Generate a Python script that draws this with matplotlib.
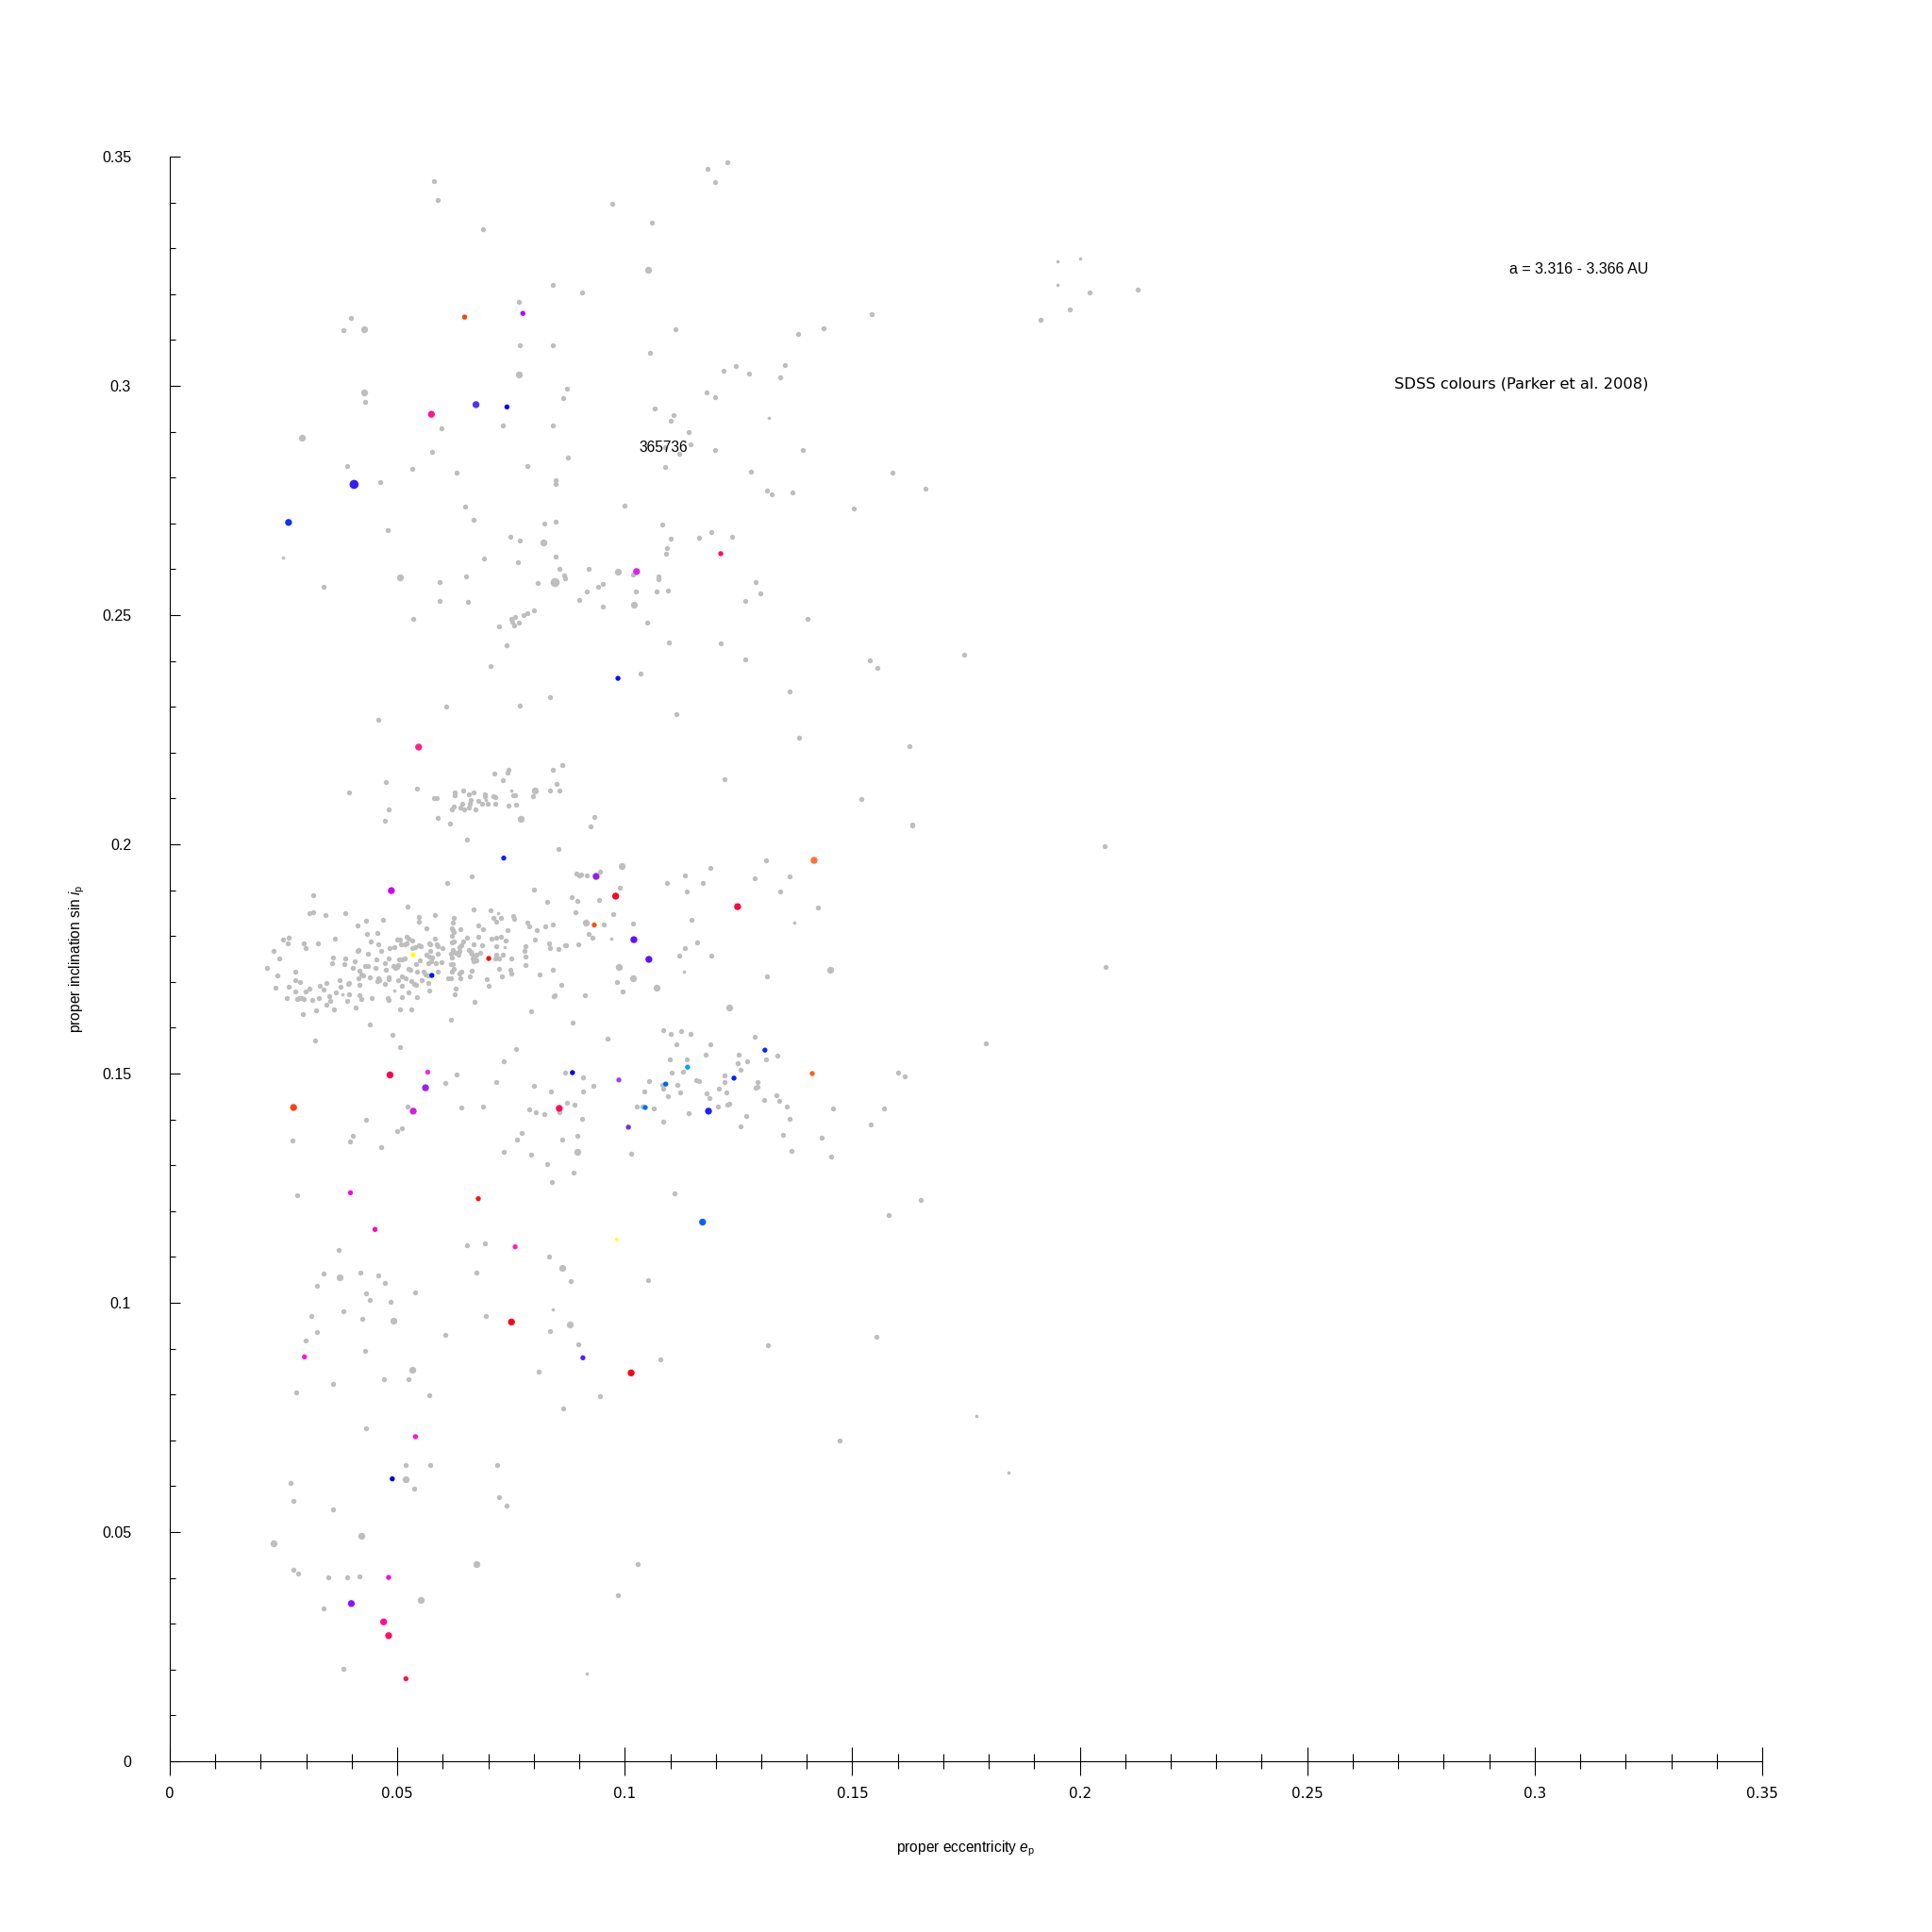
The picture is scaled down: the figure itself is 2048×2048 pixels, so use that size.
import matplotlib
matplotlib.use('Agg')
import matplotlib.pyplot as plt
from matplotlib.ticker import MultipleLocator, FormatStrFormatter

plt.rcParams['mathtext.fontset'] = 'custom'
plt.rcParams['mathtext.rm'] = 'Liberation Sans'
plt.rcParams['mathtext.it'] = 'Liberation Sans:italic'

# proper elements (e_p, sin i_p) of the background family members, grey points
gray_core = [
    (0.0315, 0.1889), (0.0307, 0.1850), (0.0315, 0.1852), (0.0342, 0.1846), (0.0386, 0.1850),
    (0.0523, 0.1864), (0.0547, 0.1842), (0.0547, 0.1831), (0.0583, 0.1846), (0.0431, 0.1834),
    (0.0469, 0.1836), (0.0412, 0.1823), (0.0433, 0.1805), (0.0456, 0.1807), (0.0442, 0.1788),
    (0.0458, 0.1782), (0.0249, 0.1792), (0.0261, 0.1796), (0.0259, 0.1784), (0.0228, 0.1768),
    (0.0241, 0.1751), (0.0214, 0.1730), (0.0236, 0.1714), (0.0294, 0.1784), (0.0298, 0.1774),
    (0.0326, 0.1784), (0.0363, 0.1794), (0.0359, 0.1753), (0.0357, 0.1741), (0.0386, 0.1751),
    (0.0384, 0.1739), (0.0406, 0.1745), (0.0412, 0.1768), (0.0414, 0.1770), (0.0435, 0.1762),
    (0.0402, 0.1730), (0.0417, 0.1724), (0.0421, 0.1716), (0.0425, 0.1714), (0.0414, 0.1708),
    (0.0429, 0.1735), (0.0435, 0.1735), (0.0452, 0.1730), (0.0454, 0.1749), (0.0464, 0.1768),
    (0.0473, 0.1741), (0.0481, 0.1751), (0.0475, 0.1726), (0.0491, 0.1735), (0.0496, 0.1730),
    (0.0500, 0.1732), (0.0502, 0.1737), (0.0504, 0.1749), (0.0510, 0.1749), (0.0516, 0.1751),
    (0.0508, 0.1782), (0.0516, 0.1782), (0.0520, 0.1784), (0.0500, 0.1792), (0.0506, 0.1792),
    (0.0494, 0.1776), (0.0483, 0.1774), (0.0520, 0.1798), (0.0524, 0.1794), (0.0532, 0.1790),
    (0.0532, 0.1774), (0.0540, 0.1776), (0.0547, 0.1780), (0.0551, 0.1778), (0.0564, 0.1817),
    (0.0583, 0.1794), (0.0570, 0.1784), (0.0572, 0.1782), (0.0587, 0.1782), (0.0589, 0.1778),
    (0.0599, 0.1774), (0.0572, 0.1768), (0.0564, 0.1760), (0.0570, 0.1755), (0.0576, 0.1753),
    (0.0574, 0.1745), (0.0568, 0.1741), (0.0589, 0.1762), (0.0597, 0.1743), (0.0585, 0.1741),
    (0.0549, 0.1747), (0.0541, 0.1739), (0.0524, 0.1728), (0.0528, 0.1726), (0.0543, 0.1722),
    (0.0557, 0.1722), (0.0589, 0.1722), (0.0562, 0.1716), (0.0568, 0.1714), (0.0553, 0.1704),
    (0.0537, 0.1695), (0.0541, 0.1693), (0.0530, 0.1702), (0.0510, 0.1712), (0.0518, 0.1708),
    (0.0502, 0.1704), (0.0510, 0.1691), (0.0524, 0.1677), (0.0543, 0.1667), (0.0568, 0.1697),
    (0.0570, 0.1681), (0.0481, 0.1710), (0.0481, 0.1706), (0.0473, 0.1695), (0.0458, 0.1708),
    (0.0456, 0.1702), (0.0460, 0.1704), (0.0439, 0.1710), (0.0417, 0.1693), (0.0394, 0.1697),
    (0.0392, 0.1695), (0.0373, 0.1704), (0.0375, 0.1689), (0.0344, 0.1697), (0.0330, 0.1691),
    (0.0338, 0.1683), (0.0307, 0.1685), (0.0298, 0.1679), (0.0286, 0.1699), (0.0276, 0.1704),
    (0.0276, 0.1722), (0.0261, 0.1689), (0.0232, 0.1687), (0.0276, 0.1679), (0.0257, 0.1665),
    (0.0280, 0.1663), (0.0284, 0.1665), (0.0290, 0.1665), (0.0294, 0.1663), (0.0313, 0.1661),
    (0.0321, 0.1638), (0.0292, 0.1630), (0.0328, 0.1665), (0.0344, 0.1650), (0.0352, 0.1659),
    (0.0350, 0.1669), (0.0365, 0.1677), (0.0394, 0.1673), (0.0390, 0.1659), (0.0361, 0.1640),
    (0.0408, 0.1644), (0.0417, 0.1671), (0.0421, 0.1663), (0.0444, 0.1665), (0.0479, 0.1665),
    (0.0481, 0.1661), (0.0510, 0.1667), (0.0506, 0.1640), (0.0530, 0.1640), (0.0439, 0.1607),
    (0.0489, 0.1584), (0.0506, 0.1557), (0.0319, 0.1571), (0.0617, 0.1617), (0.0619, 0.1817),
    (0.0623, 0.1813), (0.0625, 0.1809), (0.0619, 0.1786), (0.0625, 0.1788), (0.0623, 0.1770),
    (0.0617, 0.1762), (0.0621, 0.1753), (0.0617, 0.1739), (0.0623, 0.1739), (0.0621, 0.1722),
    (0.0611, 0.1708), (0.0617, 0.1708), (0.0623, 0.1830),
    (0.0668, 0.1858), (0.0705, 0.1856), (0.0711, 0.1840), (0.0717, 0.1831), (0.0728, 0.1840),
    (0.0755, 0.1844), (0.0757, 0.1838), (0.0624, 0.1840), (0.0639, 0.1815), (0.0620, 0.1801),
    (0.0653, 0.1796), (0.0678, 0.1823), (0.0688, 0.1815), (0.0678, 0.1798), (0.0707, 0.1794),
    (0.0717, 0.1796), (0.0728, 0.1798), (0.0738, 0.1790), (0.0742, 0.1813), (0.0668, 0.1782),
    (0.0686, 0.1780), (0.0645, 0.1788), (0.0641, 0.1780), (0.0637, 0.1776), (0.0629, 0.1764),
    (0.0634, 0.1760), (0.0637, 0.1768), (0.0657, 0.1770), (0.0661, 0.1766), (0.0663, 0.1762),
    (0.0670, 0.1755), (0.0674, 0.1760), (0.0682, 0.1764), (0.0672, 0.1749), (0.0668, 0.1745),
    (0.0674, 0.1747), (0.0666, 0.1751), (0.0717, 0.1778), (0.0717, 0.1760), (0.0732, 0.1760),
    (0.0724, 0.1751), (0.0715, 0.1751), (0.0751, 0.1751), (0.0724, 0.1728), (0.0749, 0.1726),
    (0.0751, 0.1718), (0.0730, 0.1712), (0.0697, 0.1706), (0.0701, 0.1691), (0.0663, 0.1724),
    (0.0641, 0.1722), (0.0637, 0.1718), (0.0624, 0.1728), (0.0659, 0.1712), (0.0639, 0.1708),
    (0.0628, 0.1685), (0.0626, 0.1673), (0.0670, 0.1657), (0.0795, 0.1636), (0.0813, 0.1716),
    (0.0842, 0.1726), (0.0861, 0.1693), (0.0844, 0.1669), (0.0846, 0.1671), (0.0885, 0.1611),
    (0.0761, 0.1553), (0.0734, 0.1527), (0.0963, 0.1576), (0.0782, 0.1778), (0.0780, 0.1768),
    (0.0782, 0.1755), (0.0782, 0.1737), (0.0786, 0.1830), (0.0790, 0.1822), (0.0807, 0.1813),
    (0.0803, 0.1792), (0.0825, 0.1822), (0.0842, 0.1826), (0.0834, 0.1784), (0.0836, 0.1774),
    (0.0855, 0.1772), (0.0869, 0.1780), (0.0829, 0.1875), (0.0610, 0.1916), (0.0801, 0.1902),
]

gray_band = [
    (0.0394, 0.2113), (0.0475, 0.2136), (0.0481, 0.2076), (0.0473, 0.2051), (0.0543, 0.2121),
    (0.0581, 0.2101), (0.0587, 0.2101), (0.0589, 0.2058), (0.0616, 0.2045), (0.0626, 0.2113),
    (0.0626, 0.2107), (0.0645, 0.2117), (0.0657, 0.2109), (0.0667, 0.2113), (0.0661, 0.2097),
    (0.0643, 0.2088), (0.0659, 0.2088), (0.0639, 0.2080), (0.0647, 0.2076), (0.0657, 0.2080),
    (0.0624, 0.2082), (0.0620, 0.2076), (0.0672, 0.2076), (0.0678, 0.2095), (0.0692, 0.2109),
    (0.0692, 0.2105), (0.0686, 0.2088), (0.0699, 0.2088), (0.0711, 0.2105), (0.0715, 0.2103),
    (0.0715, 0.2088), (0.0713, 0.2154), (0.0732, 0.2140), (0.0742, 0.2156), (0.0744, 0.2162),
    (0.0755, 0.2107), (0.0759, 0.2107), (0.0744, 0.2084), (0.0761, 0.2086), (0.0798, 0.2105),
    (0.0835, 0.2117), (0.0850, 0.2131), (0.0856, 0.2117), (0.0842, 0.2162), (0.0863, 0.2173),
    (0.0854, 0.1990), (0.0653, 0.2010), (0.0664, 0.1930),
]

gray_right = [
    (0.0933, 0.2059), (0.0925, 0.2039), (0.1632, 0.2043), (0.0894, 0.1936), (0.0900, 0.1932),
    (0.0904, 0.1934), (0.0917, 0.1932), (0.0946, 0.1940), (0.0989, 0.1905), (0.0883, 0.1885),
    (0.0896, 0.1877), (0.0944, 0.1879), (0.0892, 0.1852), (0.0975, 0.1848), (0.0954, 0.1825),
    (0.1018, 0.1827), (0.0921, 0.1805), (0.0929, 0.1796), (0.0898, 0.1782), (0.0871, 0.1780),
    (0.0983, 0.1700), (0.0995, 0.1679), (0.0912, 0.1671), (0.1093, 0.1916), (0.1132, 0.1932),
    (0.1171, 0.1916), (0.1136, 0.1897), (0.1188, 0.1949), (0.1286, 0.1926), (0.1310, 0.1965),
    (0.1362, 0.1930), (0.1341, 0.1897), (0.1424, 0.1862), (0.1147, 0.1835), (0.1159, 0.1786),
    (0.1132, 0.1774), (0.1120, 0.1757), (0.1190, 0.1757), (0.1312, 0.1712),
    (0.1084, 0.1595), (0.1101, 0.1587), (0.1124, 0.1593), (0.1145, 0.1587), (0.1113, 0.1564),
    (0.1188, 0.1564), (0.1286, 0.1580), (0.1178, 0.1542), (0.1099, 0.1531), (0.1136, 0.1531),
    (0.1250, 0.1541), (0.1269, 0.1527), (0.1248, 0.1523), (0.1254, 0.1508), (0.1335, 0.1539),
    (0.1310, 0.1531), (0.1103, 0.1502), (0.1128, 0.1504), (0.1157, 0.1486), (0.1163, 0.1484),
    (0.1219, 0.1496), (0.1219, 0.1482), (0.1292, 0.1482), (0.1288, 0.1469), (0.1292, 0.1471),
    (0.1601, 0.1502), (0.1615, 0.1494), (0.1053, 0.1484), (0.1043, 0.1461), (0.1082, 0.1475),
    (0.1084, 0.1467), (0.1116, 0.1475), (0.1122, 0.1459), (0.1095, 0.1451), (0.1207, 0.1467),
    (0.1223, 0.1459), (0.1180, 0.1457), (0.1186, 0.1447), (0.1333, 0.1453), (0.1339, 0.1440),
    (0.1356, 0.1428), (0.1306, 0.1442), (0.1205, 0.1428), (0.1226, 0.1432), (0.1230, 0.1434),
    (0.1140, 0.1414), (0.1267, 0.1407), (0.1254, 0.1385), (0.1362, 0.1401), (0.1348, 0.1366),
    (0.1366, 0.1331), (0.1458, 0.1424), (0.1570, 0.1424), (0.1541, 0.1389), (0.1433, 0.1360),
    (0.1454, 0.1319), (0.1026, 0.1428), (0.1039, 0.1428), (0.1064, 0.1424), (0.1084, 0.1395),
    (0.0869, 0.1502), (0.0908, 0.1492), (0.0931, 0.1473), (0.0800, 0.1473), (0.0838, 0.1461),
    (0.0908, 0.1461), (0.0873, 0.1436), (0.0889, 0.1432), (0.0790, 0.1422), (0.0805, 0.1416),
    (0.0823, 0.1412), (0.0856, 0.1416), (0.0906, 0.1401), (0.0774, 0.1370), (0.0862, 0.1356),
    (0.0896, 0.1364), (0.0795, 0.1323), (0.0829, 0.1302), (0.0887, 0.1284), (0.0840, 0.1264),
    (0.1014, 0.1325),
]

gray_upper = [
    (0.0479, 0.2686), (0.0650, 0.2736), (0.0668, 0.2707), (0.0749, 0.2670), (0.0769, 0.2663),
    (0.0823, 0.2700), (0.0848, 0.2704), (0.0690, 0.2624), (0.0765, 0.2615), (0.0848, 0.2627),
    (0.0856, 0.2601), (0.0867, 0.2587), (0.0869, 0.2580), (0.0809, 0.2570), (0.0921, 0.2601),
    (0.0999, 0.2739), (0.1082, 0.2698), (0.1101, 0.2667), (0.1093, 0.2646), (0.1091, 0.2634),
    (0.1163, 0.2669), (0.1190, 0.2681), (0.1236, 0.2671), (0.1019, 0.2589), (0.1074, 0.2584),
    (0.1074, 0.2578), (0.1024, 0.2551), (0.1070, 0.2551), (0.1095, 0.2553), (0.0952, 0.2568),
    (0.0942, 0.2562), (0.0916, 0.2551), (0.0900, 0.2533), (0.0952, 0.2519), (0.1049, 0.2483),
    (0.1097, 0.2440), (0.1211, 0.2438), (0.1265, 0.2531), (0.1265, 0.2403), (0.1035, 0.2372),
    (0.0800, 0.2511), (0.0786, 0.2504), (0.0778, 0.2500), (0.0759, 0.2496), (0.0751, 0.2492),
    (0.0753, 0.2485), (0.0757, 0.2477), (0.0767, 0.2483), (0.0723, 0.2475), (0.0740, 0.2434),
    (0.0705, 0.2389), (0.0593, 0.2572), (0.0651, 0.2584), (0.0593, 0.2531), (0.0655, 0.2529),
    (0.0535, 0.2492), (0.0338, 0.2562),
    (0.0581, 0.3446), (0.0589, 0.3406), (0.0689, 0.3342), (0.0973, 0.3398), (0.1060, 0.3355),
    (0.1182, 0.3473), (0.1225, 0.3487), (0.1198, 0.3444), (0.0841, 0.3220), (0.0906, 0.3204),
    (0.0767, 0.3183), (0.1112, 0.3124), (0.0399, 0.3148), (0.0381, 0.3121), (0.0770, 0.3089),
    (0.0841, 0.3089), (0.1055, 0.3072), (0.1436, 0.3126), (0.1380, 0.3113), (0.1542, 0.3156),
    (0.1217, 0.3032), (0.1244, 0.3043), (0.1274, 0.3027), (0.1352, 0.3046), (0.1342, 0.3019),
    (0.1179, 0.2986), (0.1198, 0.2976), (0.0430, 0.2965), (0.0873, 0.2994), (0.0865, 0.2973),
    (0.0597, 0.2908), (0.0732, 0.2914), (0.0841, 0.2914), (0.1066, 0.2950), (0.1107, 0.2936),
    (0.1101, 0.2924), (0.1140, 0.2899), (0.1145, 0.2872), (0.1120, 0.2851), (0.1089, 0.2823),
    (0.1277, 0.2813), (0.1198, 0.2860), (0.0875, 0.2844), (0.1089, 0.2866), (0.0576, 0.2855),
    (0.0630, 0.2811), (0.0786, 0.2825), (0.0849, 0.2795), (0.0849, 0.2785), (0.0532, 0.2819),
    (0.0389, 0.2825), (0.0462, 0.2790), (0.1391, 0.2860), (0.1312, 0.2771), (0.1323, 0.2763),
    (0.1369, 0.2768), (0.1588, 0.2811), (0.1661, 0.2776), (0.1504, 0.2733),
    (0.1401, 0.2491), (0.1288, 0.2572), (0.1298, 0.2547), (0.1363, 0.2333), (0.1383, 0.2233),
    (0.1520, 0.2098), (0.1626, 0.2214), (0.1631, 0.2042), (0.1539, 0.2402), (0.1556, 0.2384),
    (0.1745, 0.2413), (0.1114, 0.2284), (0.1220, 0.2142), (0.0835, 0.2322), (0.0770, 0.2303),
    (0.0607, 0.2300), (0.0459, 0.2271),
    (0.2022, 0.3204), (0.2128, 0.3210), (0.1978, 0.3166), (0.1913, 0.3145),
]

gray_lower = [
    (0.2054, 0.1996), (0.2057, 0.1733), (0.1794, 0.1566), (0.1472, 0.0699), (0.1553, 0.0925),
    (0.1315, 0.0907), (0.1650, 0.1224), (0.1580, 0.1192),
    (0.0269, 0.1353), (0.0280, 0.1235), (0.0432, 0.1399), (0.0402, 0.1364), (0.0397, 0.1351),
    (0.0464, 0.1340), (0.0499, 0.1375), (0.0510, 0.1380), (0.0522, 0.1429), (0.0640, 0.1426),
    (0.0689, 0.1429), (0.0717, 0.1481), (0.0735, 0.1329), (0.0762, 0.1356), (0.0631, 0.1497),
    (0.0605, 0.1479),
    (0.0372, 0.1116), (0.0337, 0.1063), (0.0323, 0.1038), (0.0310, 0.0971), (0.0299, 0.0917),
    (0.0323, 0.0936), (0.0359, 0.0823), (0.0277, 0.0804), (0.0381, 0.0982), (0.0418, 0.1065),
    (0.0432, 0.1020), (0.0424, 0.0966), (0.0440, 0.1006), (0.0459, 0.1060), (0.0486, 0.1003),
    (0.0473, 0.1044), (0.0430, 0.0896), (0.0432, 0.0726), (0.0470, 0.0834), (0.0524, 0.0834),
    (0.0570, 0.0799), (0.0540, 0.1022), (0.0605, 0.0931), (0.0519, 0.0646), (0.0537, 0.0595),
    (0.0573, 0.0646), (0.0266, 0.0608), (0.0272, 0.0568), (0.0359, 0.0549), (0.0272, 0.0417),
    (0.0283, 0.0409), (0.0348, 0.0401), (0.0389, 0.0401), (0.0416, 0.0404), (0.0337, 0.0334),
    (0.0381, 0.0202), (0.0719, 0.0646), (0.0724, 0.0576), (0.0741, 0.0557), (0.0654, 0.1125),
    (0.0692, 0.1130), (0.0673, 0.1065), (0.0695, 0.0971), (0.0833, 0.1100), (0.0836, 0.0939),
    (0.0811, 0.0850), (0.0898, 0.0909), (0.0882, 0.1047), (0.1052, 0.1049), (0.0946, 0.0796),
    (0.0865, 0.0769), (0.1079, 0.0877), (0.1028, 0.0430), (0.0985, 0.0363), (0.1109, 0.1238),
]

gray_tiny = [
    (0.0494, 0.1681), (0.0379, 0.1673), (0.0722, 0.1850), (0.0736, 0.1776), (0.0970, 0.1794),
    (0.1373, 0.1829), (0.1130, 0.1722), (0.0694, 0.2097), (0.0751, 0.2117), (0.0249, 0.2625),
    (0.1317, 0.2930), (0.1951, 0.3271), (0.2000, 0.3277), (0.1951, 0.3220), (0.1772, 0.0753),
    (0.1843, 0.0630), (0.0841, 0.0985), (0.0917, 0.0191),
]

gray_medium = [
    (0.0993, 0.1953), (0.0915, 0.1829), (0.0987, 0.1732), (0.1018, 0.1708), (0.1070, 0.1687),
    (0.1451, 0.1726), (0.0771, 0.2056), (0.0802, 0.2117), (0.0821, 0.2659), (0.0985, 0.2595),
    (0.1020, 0.2522), (0.0506, 0.2582), (0.1052, 0.3253), (0.0427, 0.3124), (0.0767, 0.3024),
    (0.0427, 0.2986), (0.0291, 0.2887), (0.1230, 0.1644), (0.0896, 0.1329), (0.0374, 0.1055),
    (0.0491, 0.0960), (0.0532, 0.0853), (0.0519, 0.0616), (0.0421, 0.0492), (0.0229, 0.0476),
    (0.0551, 0.0352), (0.0673, 0.0430), (0.0862, 0.1076), (0.0879, 0.0952),
]

gray_large = [(0.0846, 0.2572)]

# members with SDSS colours
sdss_e = [0.0776, 0.0648, 0.0575, 0.0673, 0.0741, 0.0405, 0.0261, 0.1211,
          0.1026, 0.0985, 0.0547, 0.0734, 0.0487, 0.0937, 0.0980, 0.0933,
          0.1416, 0.1248, 0.1020, 0.1053, 0.0535, 0.0576, 0.0701, 0.0484,
          0.0567, 0.0562, 0.0535, 0.0272, 0.0856, 0.0885, 0.0987, 0.1008,
          0.1045, 0.1090, 0.1138, 0.1240, 0.1184, 0.1308, 0.1412, 0.1171,
          0.0982, 0.0759, 0.0678, 0.0451, 0.0397, 0.0296, 0.0751, 0.0908,
          0.1014, 0.0540, 0.0489, 0.0481, 0.0399, 0.0470, 0.0481, 0.0519]
sdss_sini = [0.3158, 0.3150, 0.2938, 0.2959, 0.2954, 0.2785, 0.2702, 0.2634,
             0.2595, 0.2362, 0.2212, 0.1970, 0.1899, 0.1930, 0.1887, 0.1824,
             0.1965, 0.1864, 0.1792, 0.1749, 0.1759, 0.1714, 0.1751, 0.1497,
             0.1503, 0.1469, 0.1418, 0.1426, 0.1424, 0.1502, 0.1486, 0.1383,
             0.1426, 0.1477, 0.1514, 0.1490, 0.1418, 0.1551, 0.1500, 0.1176,
             0.1138, 0.1122, 0.1227, 0.1160, 0.1240, 0.0882, 0.0958, 0.0880,
             0.0847, 0.0708, 0.0616, 0.0401, 0.0344, 0.0304, 0.0274, 0.0180]
sdss_colour = ['#B400FF', '#FF4000', '#FF1493', '#5030FF', '#0000FF', '#3020FF', '#1030FF', '#FF1060',
               '#E020F0', '#0010FF', '#FF2080', '#0020FF', '#CC00FF', '#9020F0', '#FF0020', '#FF5010',
               '#FF7030', '#FF0040', '#6010FF', '#6010FF', '#FFFF00', '#0010FF', '#FF0000', '#FF0050',
               '#E030F0', '#A020F0', '#D020E0', '#FF4010', '#FF1050', '#0000E0', '#A040F0', '#7030E0',
               '#0070FF', '#0060FF', '#00A0FF', '#0020FF', '#2020FF', '#0030FF', '#FF6010', '#1060FF',
               '#FFFF20', '#FF20C0', '#FF1010', '#FF00C0', '#FF00E0', '#FF10F0', '#FF0020', '#5020FF',
               '#FF0010', '#FF10E0', '#0000C0', '#FF00F0', '#9010FF', '#FF1090', '#FF1060', '#FF1050']
sdss_class = [2, 2, 3, 3, 2, 4, 3, 2,
              3, 2, 3, 2, 3, 3, 3, 2,
              3, 3, 3, 3, 2, 2, 2, 3,
              2, 3, 3, 3, 3, 2, 2, 2,
              2, 2, 2, 2, 3, 2, 2, 3,
              1, 2, 2, 2, 2, 2, 3, 2,
              3, 2, 2, 2, 3, 3, 3, 2]

AREA = {1: 7, 2: 15, 3: 28, 4: 48}
GREY = '#BEBEBE'


def scatter_pairs(ax, pts, area, colour=GREY):
    '''Scatter a list of (e, sin i) pairs.'''
    e, s = zip(*pts)
    ax.scatter(e, s, s=area, c=colour, marker='o', linewidths=0, zorder=2)


def main():
    '''Draw the family plot.'''
    fig = plt.figure(figsize=(20.48, 20.48), dpi=100)
    ax = fig.add_axes([180 / 2048, 181 / 2048, 1688 / 2048, 1701 / 2048])

    for pts in (gray_core, gray_band, gray_right, gray_upper, gray_lower):
        scatter_pairs(ax, pts, AREA[2])
    scatter_pairs(ax, gray_tiny, AREA[1])
    scatter_pairs(ax, gray_medium, AREA[3])
    scatter_pairs(ax, gray_large, AREA[4])

    ax.scatter(sdss_e, sdss_sini, s=[AREA[k] for k in sdss_class],
               c=sdss_colour, marker='o', linewidths=0, zorder=3)

    ax.set_xlim(0, 0.35)
    ax.set_ylim(0, 0.35)
    ax.spines['top'].set_visible(False)
    ax.spines['right'].set_visible(False)
    for side in ('left', 'bottom'):
        ax.spines[side].set_linewidth(0.8)

    ax.xaxis.set_major_locator(MultipleLocator(0.05))
    ax.xaxis.set_minor_locator(MultipleLocator(0.01))
    ax.yaxis.set_major_locator(MultipleLocator(0.05))
    ax.yaxis.set_minor_locator(MultipleLocator(0.01))
    ax.xaxis.set_major_formatter(FormatStrFormatter('%g'))
    ax.yaxis.set_major_formatter(FormatStrFormatter('%g'))

    ax.tick_params(axis='x', which='major', direction='inout', length=21, width=0.8,
                   pad=9, labelsize=11, labelfontfamily='DejaVu Sans')
    ax.tick_params(axis='x', which='minor', direction='inout', length=12, width=0.8)
    ax.tick_params(axis='y', which='major', direction='in', length=8, width=0.8,
                   pad=29.5, labelsize=11.5, labelfontfamily='Liberation Sans')
    ax.tick_params(axis='y', which='minor', direction='in', length=4, width=0.8)

    fig.text(1024 / 2048, 1 - 1960 / 2048, r'proper eccentricity $e_\mathrm{p}$',
             ha='center', va='center', fontsize=11.2, family='Liberation Sans')
    fig.text(82 / 2048, 1 - 1016 / 2048, r'proper inclination sin $i_\mathrm{p}$',
             ha='center', va='center', rotation=90, fontsize=11.2, family='Liberation Sans')

    ax.text(0.325, 0.3255, 'a = 3.316 - 3.366 AU', ha='right', va='center',
            fontsize=11.5, family='Liberation Sans')
    ax.text(0.325, 0.3004, 'SDSS colours (Parker et al. 2008)', ha='right', va='center',
            fontsize=11.7, family='DejaVu Sans')
    ax.text(0.1084, 0.2866, '365736', ha='center', va='center',
            fontsize=11.2, family='Liberation Sans', zorder=4)

    fig.savefig('out.png', dpi=100, facecolor='white')


if __name__ == '__main__':
    main()
